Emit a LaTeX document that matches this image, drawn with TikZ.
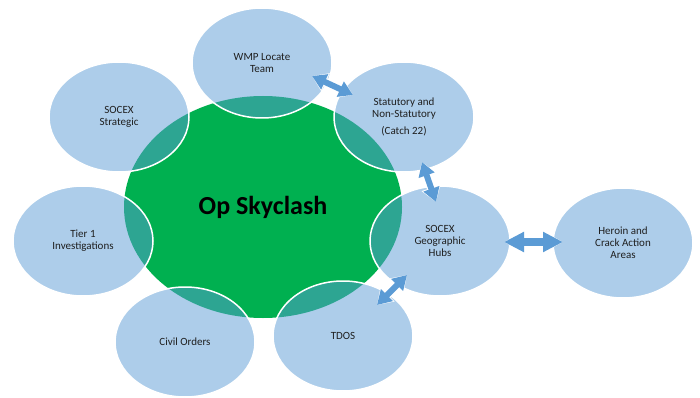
\documentclass[tikz,border=0pt]{standalone}
\usepackage{fontspec}
\setmainfont{Carlito}
\usetikzlibrary{shapes.geometric,arrows.meta}
\definecolor{satc}{HTML}{5B9BD5}
\definecolor{grn}{HTML}{00B050}
\definecolor{txt}{HTML}{1F1F1F}
\begin{document}
\begin{tikzpicture}[x=1pt,y=-1pt,
  sat/.style={ellipse, minimum width=140pt, minimum height=110pt, inner sep=0pt,
    fill=satc, fill opacity=0.5, text opacity=1, draw=white, draw opacity=1,
    line width=1.5pt, align=center, text=txt,
    font=\fontsize{11}{12}\selectfont},
  core/.style={ellipse, minimum width=278pt, minimum height=222pt, inner sep=0pt,
    fill=grn, text=black,
    font=\fontsize{26}{30}\selectfont\bfseries},
  barrowbg/.style={draw=white, line width=8.5pt,
    {Triangle[length=15pt,width=19pt]}-{Triangle[length=15pt,width=19pt]}},
  barrow/.style={draw=satc, line width=6pt,
    {Triangle[length=14pt,width=16pt]}-{Triangle[length=14pt,width=16pt]}},
  bigarrowbg/.style={draw=white, line width=10pt,
    {Triangle[length=21pt,width=22pt]}-{Triangle[length=21pt,width=22pt]}},
  bigarrow/.style={draw=satc, line width=8pt,
    {Triangle[length=20pt,width=19pt]}-{Triangle[length=20pt,width=19pt]}}
]
\useasboundingbox (0,0) rectangle (700,398);

\node[core] (op) at (263,207) {Op Skyclash};

\node[sat] (wmp) at (262,63) {WMP Locate\\Team};
\node[sat] (stat) at (404,117) {Statutory and\\Non-Statutory\\[5pt](Catch 22)};
\node[sat] (strat) at (119,117) {SOCEX\\Strategic};
\node[sat] (tier) at (83,241) {Tier 1\\Investigations};
\node[sat] (geo) at (440,241) {SOCEX\\Geographic\\Hubs};
\node[sat] (her) at (623,243) {Heroin and\\Crack Action\\Areas};
\node[sat] (tdos) at (343,336) {TDOS};
\node[sat] (civ) at (185,342) {Civil Orders};

\coordinate (a1) at (312,76);
\coordinate (a2) at (353,95);
\coordinate (b1) at (422,162);
\coordinate (b2) at (436,202);
\coordinate (c1) at (504,242);
\coordinate (c2) at (563,242);
\coordinate (d1) at (407,275);
\coordinate (d2) at (377,305);

\draw[barrowbg] (a1) -- (a2);
\draw[barrow] (a1) -- (a2);
\draw[barrowbg] (b1) -- (b2);
\draw[barrow] (b1) -- (b2);
\draw[barrowbg] (d1) -- (d2);
\draw[barrow] (d1) -- (d2);
\draw[bigarrowbg] (c1) -- (c2);
\draw[bigarrow] (c1) -- (c2);
\end{tikzpicture}
\end{document}
